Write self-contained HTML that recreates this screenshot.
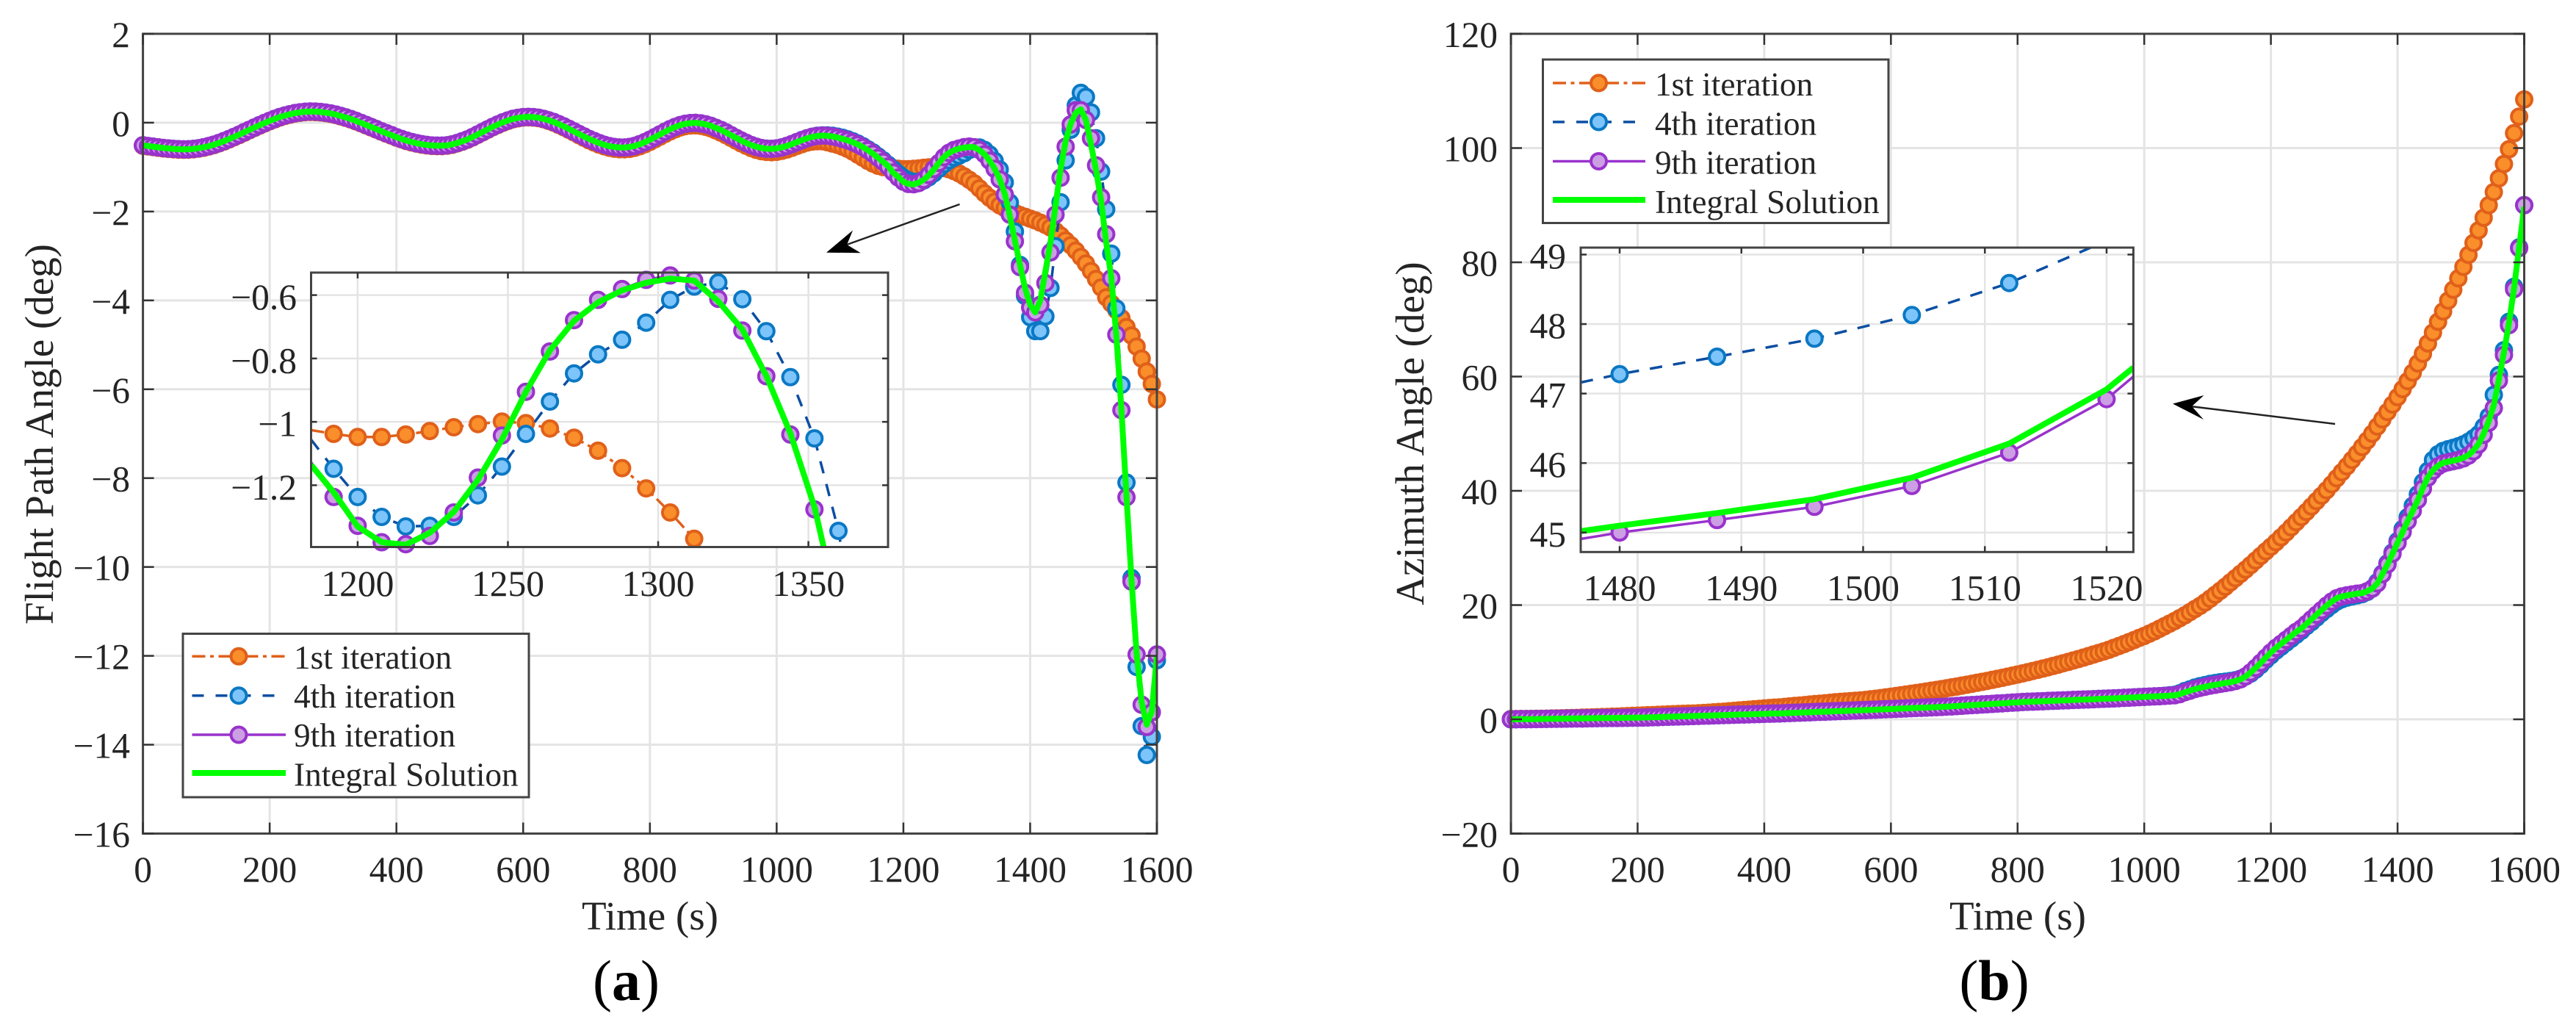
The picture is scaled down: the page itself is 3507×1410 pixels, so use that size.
<!DOCTYPE html>
<html lang="en">
<head>
<meta charset="utf-8">
<title>Flight path angle and azimuth angle iterations</title>
<style>
html,body{margin:0;padding:0;background:#fff;width:3507px;height:1410px;overflow:hidden;}
svg{display:block;font-family:"Liberation Serif",serif;}
text{fill:#242424;}
</style>
</head>
<body>
<svg id="figure" xmlns="http://www.w3.org/2000/svg" width="3507" height="1410" viewBox="0 0 3507 1410">
<rect x="0" y="0" width="3507" height="1410" fill="#ffffff"/>
<g id="panelA"></g>
<g id="panelB"></g>

<g>
<rect x="249" y="862.5" width="471" height="222.5" fill="#fff" stroke="#444" stroke-width="3"/>
<g>
<line x1="261.5" y1="893.3" x2="389" y2="893.3" stroke="#E0601A" stroke-width="3.5" stroke-dasharray="18 6.5 5 6.5"/>
<circle cx="325" cy="893.3" r="10.5" fill="#F98E2B" stroke="#E0601A" stroke-width="4"/>
<text x="400" y="910" font-size="45.3">1st iteration</text></g>
<g>
<line x1="261.5" y1="946.7" x2="389" y2="946.7" stroke="#0B4EA2" stroke-width="3.5" stroke-dasharray="16 16"/>
<circle cx="325" cy="946.7" r="10.5" fill="#7CC4FA" stroke="#0A78C4" stroke-width="4"/>
<text x="400" y="963" font-size="45.3">4th iteration</text></g>
<g>
<line x1="261.5" y1="1000" x2="389" y2="1000" stroke="#9933CC" stroke-width="3.5"/>
<circle cx="325" cy="1000" r="10.5" fill="#CC9FE4" stroke="#9933CC" stroke-width="4"/>
<text x="400" y="1016" font-size="45.3">9th iteration</text></g>
<g>
<line x1="261.5" y1="1052" x2="389" y2="1052" stroke="#00FF00" stroke-width="8"/>
<text x="400" y="1069.5" font-size="45.3">Integral Solution</text></g>
</g>

<g>
<rect x="2100.5" y="81" width="470.5" height="222.5" fill="#fff" stroke="#444" stroke-width="3"/>
<g>
<line x1="2114" y1="113" x2="2240" y2="113" stroke="#E0601A" stroke-width="3.5" stroke-dasharray="18 6.5 5 6.5"/>
<circle cx="2176.5" cy="113" r="10.5" fill="#F98E2B" stroke="#E0601A" stroke-width="4"/>
<text x="2253" y="130" font-size="45.3">1st iteration</text></g>
<g>
<line x1="2114" y1="166" x2="2240" y2="166" stroke="#0B4EA2" stroke-width="3.5" stroke-dasharray="16 16"/>
<circle cx="2176.5" cy="166" r="10.5" fill="#7CC4FA" stroke="#0A78C4" stroke-width="4"/>
<text x="2253" y="183.5" font-size="45.3">4th iteration</text></g>
<g>
<line x1="2114" y1="219.5" x2="2240" y2="219.5" stroke="#9933CC" stroke-width="3.5"/>
<circle cx="2176.5" cy="219.5" r="10.5" fill="#CC9FE4" stroke="#9933CC" stroke-width="4"/>
<text x="2253" y="236.5" font-size="45.3">9th iteration</text></g>
<g>
<line x1="2114" y1="272" x2="2240" y2="272" stroke="#00FF00" stroke-width="8"/>
<text x="2253" y="290" font-size="45.3">Integral Solution</text></g>
</g>

<g id="insetA"></g>
<g id="insetB"></g>

<g>
<line x1="1306.5" y1="278" x2="1150" y2="334" stroke="#222" stroke-width="2.5"/>
<polygon points="1125,343.7 1161,313.5 1153,333 1171.7,344.3" fill="#000"/>
</g>
<g>
<line x1="3179" y1="577" x2="2982" y2="553" stroke="#222" stroke-width="2.5"/>
<polygon points="2958,549.5 3000.5,538 2984,553 3000,571" fill="#000"/>
</g>

<text x="885" y="1265" font-size="55" text-anchor="middle">Time (s)</text>
<text x="2747" y="1265" font-size="55" text-anchor="middle">Time (s)</text>
<text transform="translate(72 591) rotate(-90)" font-size="55" text-anchor="middle">Flight Path Angle (deg)</text>
<text transform="translate(1938 590) rotate(-90)" font-size="55" text-anchor="middle">Azimuth Angle (deg)</text>
<text x="852.5" y="1361" font-size="78" text-anchor="middle" style="fill:#000">(<tspan font-weight="bold">a</tspan>)</text>
<text x="2715" y="1361" font-size="78" text-anchor="middle" style="fill:#000">(<tspan font-weight="bold">b</tspan>)</text>
</svg>

<script>
const sampleTimes = [
0,8,16,24,32,40,48,56,64,72,
80,88,96,104,112,120,128,136,144,152,
160,168,176,184,192,200,208,216,224,232,
240,248,256,264,272,280,288,296,304,312,
320,328,336,344,352,360,368,376,384,392,
400,408,416,424,432,440,448,456,464,472,
480,488,496,504,512,520,528,536,544,552,
560,568,576,584,592,600,608,616,624,632,
640,648,656,664,672,680,688,696,704,712,
720,728,736,744,752,760,768,776,784,792,
800,808,816,824,832,840,848,856,864,872,
880,888,896,904,912,920,928,936,944,952,
960,968,976,984,992,1000,1008,1016,1024,1032,
1040,1048,1056,1064,1072,1080,1088,1096,1104,1112,
1120,1128,1136,1144,1152,1160,1168,1176,1184,1192,
1200,1208,1216,1224,1232,1240,1248,1256,1264,1272,
1280,1288,1296,1304,1312,1320,1328,1336,1344,1352,
1360,1368,1376,1384,1392,1400,1408,1416,1424,1432,
1440,1448,1456,1464,1472,1480,1488,1496,1504,1512,
1520,1528,1536,1544,1552,1560,1568,1576,1584,1592,
1600];

const gammaIter1 = [
-0.52,-0.535,-0.55,-0.565,-0.58,-0.59,-0.6,-0.607,-0.61,-0.608,
-0.6,-0.584,-0.564,-0.537,-0.505,-0.467,-0.425,-0.378,-0.329,-0.278,
-0.225,-0.171,-0.119,-0.067,-0.018,0.031,0.075,0.116,0.151,0.18,
0.205,0.223,0.235,0.24,0.238,0.23,0.216,0.197,0.172,0.142,
0.108,0.072,0.03,-0.014,-0.06,-0.107,-0.153,-0.202,-0.248,-0.291,
-0.336,-0.376,-0.415,-0.445,-0.473,-0.495,-0.512,-0.523,-0.529,-0.529,
-0.518,-0.498,-0.468,-0.43,-0.386,-0.335,-0.277,-0.219,-0.161,-0.104,
-0.052,-0.003,0.039,0.075,0.099,0.115,0.12,0.115,0.101,0.077,
0.04,0,-0.05,-0.104,-0.16,-0.22,-0.28,-0.34,-0.397,-0.447,
-0.495,-0.534,-0.565,-0.587,-0.598,-0.6,-0.59,-0.567,-0.53,-0.485,
-0.432,-0.373,-0.313,-0.254,-0.197,-0.148,-0.107,-0.079,-0.063,-0.06,
-0.07,-0.093,-0.128,-0.174,-0.224,-0.281,-0.343,-0.405,-0.466,-0.52,
-0.572,-0.612,-0.642,-0.659,-0.665,-0.656,-0.634,-0.604,-0.564,-0.522,
-0.483,-0.448,-0.428,-0.418,-0.42,-0.44,-0.47,-0.5,-0.54,-0.59,
-0.65,-0.72,-0.79,-0.86,-0.92,-0.97,-1,-1.015,-1.025,-1.038,
-1.048,-1.048,-1.04,-1.029,-1.017,-1.007,-0.999,-1.004,-1.021,-1.05,
-1.091,-1.146,-1.21,-1.286,-1.369,-1.48,-1.59,-1.69,-1.78,-1.86,
-1.92,-1.98,-2.03,-2.08,-2.12,-2.16,-2.2,-2.25,-2.3,-2.36,
-2.44,-2.54,-2.65,-2.76,-2.88,-3.02,-3.17,-3.34,-3.52,-3.71,
-3.93,-4.07,-4.22,-4.4,-4.6,-4.79,-5.04,-5.31,-5.6,-5.88,
-6.23];

const gammaIter4 = [
-0.51,-0.525,-0.54,-0.555,-0.57,-0.58,-0.59,-0.597,-0.6,-0.598,
-0.59,-0.574,-0.554,-0.527,-0.495,-0.457,-0.415,-0.368,-0.319,-0.268,
-0.215,-0.161,-0.109,-0.057,-0.008,0.041,0.085,0.126,0.161,0.19,
0.215,0.233,0.245,0.25,0.248,0.24,0.226,0.207,0.182,0.152,
0.118,0.082,0.04,-0.004,-0.05,-0.097,-0.143,-0.192,-0.238,-0.281,
-0.326,-0.366,-0.405,-0.435,-0.463,-0.485,-0.502,-0.513,-0.519,-0.519,
-0.508,-0.488,-0.458,-0.42,-0.376,-0.325,-0.267,-0.209,-0.151,-0.094,
-0.042,0.007,0.049,0.085,0.109,0.125,0.13,0.125,0.111,0.087,
0.054,0.015,-0.032,-0.084,-0.139,-0.197,-0.255,-0.312,-0.367,-0.415,
-0.461,-0.498,-0.528,-0.548,-0.558,-0.559,-0.547,-0.523,-0.486,-0.439,
-0.385,-0.325,-0.264,-0.204,-0.146,-0.097,-0.055,-0.026,-0.009,-0.005,
-0.015,-0.037,-0.071,-0.116,-0.165,-0.221,-0.282,-0.343,-0.403,-0.455,
-0.505,-0.543,-0.571,-0.586,-0.59,-0.58,-0.556,-0.524,-0.482,-0.437,
-0.39,-0.35,-0.317,-0.295,-0.285,-0.285,-0.295,-0.315,-0.34,-0.375,
-0.42,-0.47,-0.53,-0.6,-0.67,-0.76,-0.85,-0.95,-1.05,-1.148,
-1.237,-1.3,-1.33,-1.328,-1.3,-1.232,-1.141,-1.038,-0.936,-0.847,
-0.787,-0.741,-0.687,-0.615,-0.573,-0.56,-0.613,-0.714,-0.859,-1.052,
-1.344,-1.8,-2.45,-3.2,-3.9,-4.38,-4.69,-4.69,-4.36,-3.72,
-2.78,-1.79,-0.85,-0.16,0.39,0.67,0.58,0.23,-0.35,-1.1,
-1.95,-2.95,-4.18,-5.9,-8.1,-10.25,-12.25,-13.58,-14.23,-13.82,
-12.1];

const gammaIter9 = [
-0.51,-0.525,-0.54,-0.555,-0.57,-0.58,-0.59,-0.597,-0.6,-0.598,
-0.59,-0.574,-0.554,-0.527,-0.495,-0.457,-0.415,-0.368,-0.319,-0.268,
-0.215,-0.161,-0.109,-0.057,-0.008,0.041,0.085,0.126,0.161,0.19,
0.215,0.233,0.245,0.25,0.248,0.24,0.226,0.207,0.182,0.152,
0.118,0.082,0.04,-0.004,-0.05,-0.097,-0.143,-0.192,-0.238,-0.281,
-0.326,-0.366,-0.405,-0.435,-0.463,-0.485,-0.502,-0.513,-0.519,-0.519,
-0.508,-0.488,-0.458,-0.42,-0.376,-0.325,-0.267,-0.209,-0.151,-0.094,
-0.042,0.007,0.049,0.085,0.109,0.125,0.13,0.125,0.111,0.087,
0.054,0.015,-0.032,-0.084,-0.139,-0.197,-0.255,-0.312,-0.367,-0.415,
-0.461,-0.498,-0.528,-0.548,-0.558,-0.559,-0.547,-0.523,-0.486,-0.439,
-0.385,-0.325,-0.264,-0.204,-0.146,-0.097,-0.055,-0.026,-0.009,-0.005,
-0.015,-0.037,-0.071,-0.116,-0.165,-0.221,-0.282,-0.343,-0.403,-0.455,
-0.505,-0.543,-0.571,-0.586,-0.59,-0.58,-0.556,-0.524,-0.482,-0.437,
-0.394,-0.353,-0.32,-0.299,-0.29,-0.295,-0.31,-0.335,-0.365,-0.4,
-0.44,-0.49,-0.55,-0.62,-0.7,-0.79,-0.88,-0.99,-1.12,-1.237,
-1.328,-1.38,-1.386,-1.36,-1.286,-1.176,-1.043,-0.905,-0.778,-0.679,
-0.615,-0.581,-0.552,-0.538,-0.554,-0.612,-0.712,-0.856,-1.04,-1.276,
-1.62,-2.07,-2.67,-3.25,-3.83,-4.16,-4.27,-4.1,-3.61,-2.92,
-2.07,-1.24,-0.54,-0.04,0.28,0.28,0.06,-0.35,-0.96,-1.68,
-2.51,-3.5,-4.77,-6.47,-8.43,-10.33,-11.97,-13.1,-13.6,-13.27,
-11.97];

const gammaIntegral = [
-0.51,-0.525,-0.54,-0.555,-0.57,-0.58,-0.59,-0.597,-0.6,-0.598,
-0.59,-0.574,-0.554,-0.527,-0.495,-0.457,-0.415,-0.368,-0.319,-0.268,
-0.215,-0.161,-0.109,-0.057,-0.008,0.041,0.085,0.126,0.161,0.19,
0.215,0.233,0.245,0.25,0.248,0.24,0.226,0.207,0.182,0.152,
0.118,0.082,0.04,-0.004,-0.05,-0.097,-0.143,-0.192,-0.238,-0.281,
-0.326,-0.366,-0.405,-0.435,-0.463,-0.485,-0.502,-0.513,-0.519,-0.519,
-0.508,-0.488,-0.458,-0.42,-0.376,-0.325,-0.267,-0.209,-0.151,-0.094,
-0.042,0.007,0.049,0.085,0.109,0.125,0.13,0.125,0.111,0.087,
0.054,0.015,-0.032,-0.084,-0.139,-0.197,-0.255,-0.312,-0.367,-0.415,
-0.461,-0.498,-0.528,-0.548,-0.558,-0.559,-0.547,-0.523,-0.486,-0.439,
-0.385,-0.325,-0.264,-0.204,-0.146,-0.097,-0.055,-0.026,-0.009,-0.005,
-0.015,-0.037,-0.071,-0.116,-0.165,-0.221,-0.282,-0.343,-0.403,-0.455,
-0.505,-0.543,-0.571,-0.586,-0.59,-0.58,-0.556,-0.524,-0.482,-0.437,
-0.394,-0.353,-0.32,-0.299,-0.29,-0.295,-0.31,-0.335,-0.365,-0.4,
-0.44,-0.49,-0.55,-0.62,-0.7,-0.79,-0.88,-0.98,-1.13,-1.222,
-1.33,-1.38,-1.388,-1.35,-1.284,-1.183,-1.056,-0.905,-0.774,-0.681,
-0.623,-0.585,-0.561,-0.548,-0.554,-0.62,-0.708,-0.855,-1.036,-1.268,
-1.6,-2.1,-2.65,-3.2,-3.72,-4.1,-4.27,-4,-3.35,-2.7,
-1.87,-1.04,-0.41,-0.02,0.22,0.3,0.06,-0.49,-1.07,-1.76,
-2.7,-3.47,-4.8,-6.45,-8.4,-10.3,-11.95,-13.05,-13.55,-13.25,
-12];

const azimuthIter1 = [
0.05,0.05,0.06,0.07,0.08,0.09,0.1,0.12,0.14,0.16,
0.18,0.2,0.22,0.25,0.28,0.31,0.34,0.37,0.4,0.43,
0.46,0.49,0.53,0.57,0.6,0.64,0.68,0.72,0.75,0.79,
0.82,0.86,0.9,0.93,0.96,0.99,1.02,1.05,1.1,1.16,
1.22,1.28,1.34,1.41,1.48,1.55,1.62,1.69,1.76,1.84,
1.92,1.98,2.04,2.1,2.18,2.26,2.34,2.42,2.5,2.58,
2.66,2.74,2.82,2.9,2.98,3.06,3.12,3.18,3.24,3.3,
3.4,3.5,3.6,3.72,3.84,3.96,4.08,4.21,4.34,4.47,
4.6,4.73,4.87,5.01,5.15,5.29,5.44,5.59,5.74,5.9,
6.06,6.22,6.39,6.56,6.73,6.91,7.09,7.27,7.46,7.65,
7.84,8.04,8.25,8.46,8.67,8.89,9.11,9.34,9.57,9.81,
10.05,10.3,10.55,10.81,11.07,11.34,11.61,11.89,12.17,12.5,
12.83,13.17,13.52,13.88,14.25,14.6,15,15.4,15.85,16.3,
16.75,17.2,17.7,18.2,18.75,19.3,19.85,20.45,21.1,21.8,
22.5,23.2,23.95,24.7,25.45,26.2,27,27.8,28.6,29.4,
30.2,31,31.85,32.7,33.6,34.5,35.4,36.3,37.25,38.2,
39.15,40.1,41.15,42.2,43.25,44.3,45.4,46.5,47.65,48.8,
50,51.25,52.5,53.8,55.1,56.4,57.8,59.2,60.7,62.3,
64,65.8,67.7,69.6,71.4,73.3,75.2,77.2,79.2,81.3,
83.4,85.6,87.8,90,92.3,94.7,97.2,99.8,102.6,105.5,
108.5];

const azimuthIter4 = [
0,0.01,0.02,0.03,0.04,0.05,0.07,0.08,0.09,0.1,
0.11,0.13,0.14,0.15,0.16,0.18,0.19,0.2,0.22,0.23,
0.24,0.25,0.26,0.27,0.28,0.29,0.31,0.34,0.37,0.39,
0.42,0.45,0.47,0.5,0.53,0.55,0.58,0.61,0.64,0.66,
0.69,0.72,0.74,0.77,0.8,0.83,0.85,0.88,0.91,0.93,
0.96,0.99,1.01,1.03,1.07,1.1,1.14,1.17,1.21,1.24,
1.28,1.31,1.34,1.38,1.41,1.45,1.48,1.52,1.55,1.59,
1.62,1.66,1.69,1.73,1.77,1.8,1.84,1.88,1.91,1.95,
1.99,2.02,2.06,2.1,2.13,2.17,2.22,2.27,2.33,2.38,
2.44,2.49,2.54,2.6,2.65,2.7,2.76,2.81,2.87,2.92,
2.97,3.03,3.07,3.1,3.14,3.17,3.21,3.24,3.28,3.32,
3.35,3.39,3.42,3.46,3.49,3.53,3.56,3.6,3.63,3.67,
3.71,3.75,3.8,3.84,3.88,3.93,3.97,4.01,4.05,4.12,
4.2,4.3,4.55,4.95,5.25,5.55,5.8,6,6.2,6.35,
6.5,6.6,6.7,6.85,7.1,7.5,8,8.7,9.5,10.4,
11.2,12,12.7,13.4,14.1,14.8,15.5,16.3,17,17.8,
18.6,19.3,20,20.6,21,21.3,21.5,21.7,21.9,22.3,
22.9,24,25.5,27.3,29.2,31.2,33.3,35.4,37.4,39.4,
41.5,43.5,45.4,46.4,46.98,47.28,47.53,47.79,48.13,48.59,
49.2,49.9,51.2,53,56.8,60.3,64.6,69.6,75.7,82.6,
90];

const azimuthIter9 = [
0,0.01,0.02,0.03,0.04,0.05,0.07,0.08,0.09,0.1,
0.11,0.13,0.14,0.15,0.16,0.18,0.19,0.2,0.22,0.23,
0.24,0.25,0.26,0.27,0.28,0.29,0.31,0.34,0.37,0.39,
0.42,0.45,0.47,0.5,0.53,0.55,0.58,0.61,0.64,0.66,
0.69,0.72,0.74,0.77,0.8,0.83,0.85,0.88,0.91,0.93,
0.96,0.99,1.01,1.03,1.07,1.1,1.14,1.17,1.21,1.24,
1.28,1.31,1.34,1.38,1.41,1.45,1.48,1.52,1.55,1.59,
1.62,1.66,1.69,1.73,1.77,1.8,1.84,1.88,1.91,1.95,
1.99,2.02,2.06,2.1,2.13,2.17,2.22,2.27,2.33,2.38,
2.44,2.49,2.54,2.6,2.65,2.7,2.76,2.81,2.87,2.92,
2.97,3.03,3.07,3.1,3.14,3.17,3.21,3.24,3.28,3.32,
3.35,3.39,3.42,3.46,3.49,3.53,3.56,3.6,3.63,3.67,
3.71,3.75,3.8,3.84,3.88,3.93,3.97,4.01,4.05,4.1,
4.15,4.2,4.4,4.75,5,5.3,5.5,5.7,5.9,6.05,
6.2,6.35,6.5,6.7,7,7.5,8.2,9,9.9,10.8,
11.7,12.5,13.2,13.9,14.6,15.3,15.9,16.7,17.5,18.3,
19.1,19.9,20.6,21.2,21.5,21.7,21.85,22,22.1,22.4,
22.9,23.8,25.4,27.1,29,30.9,32.8,34.7,36.5,38.4,
40.4,42.3,43.5,44.3,44.77,45,45.18,45.37,45.67,46.15,
46.92,48.1,49.8,51.9,54.5,59.3,63.8,69,75.3,82.5,
90];

const azimuthIntegral = [
0,0.01,0.02,0.03,0.04,0.05,0.07,0.08,0.09,0.1,
0.11,0.13,0.14,0.15,0.16,0.18,0.19,0.2,0.22,0.23,
0.24,0.25,0.26,0.27,0.28,0.29,0.31,0.34,0.37,0.39,
0.42,0.45,0.47,0.5,0.53,0.55,0.58,0.61,0.64,0.66,
0.69,0.72,0.74,0.77,0.8,0.83,0.85,0.88,0.91,0.93,
0.96,0.99,1.01,1.03,1.07,1.1,1.14,1.17,1.21,1.24,
1.28,1.31,1.34,1.38,1.41,1.45,1.48,1.52,1.55,1.59,
1.62,1.66,1.69,1.73,1.77,1.8,1.84,1.88,1.91,1.95,
1.99,2.02,2.06,2.1,2.13,2.17,2.22,2.27,2.33,2.38,
2.44,2.49,2.54,2.6,2.65,2.7,2.76,2.81,2.87,2.92,
2.97,3.03,3.07,3.1,3.14,3.17,3.21,3.24,3.28,3.32,
3.35,3.39,3.42,3.46,3.49,3.53,3.56,3.6,3.63,3.67,
3.71,3.75,3.8,3.84,3.88,3.93,3.97,4.01,4.05,4.1,
4.15,4.2,4.4,4.75,5,5.3,5.5,5.7,5.9,6.05,
6.2,6.35,6.5,6.7,7,7.5,8.2,9,9.9,10.8,
11.7,12.5,13.2,13.9,14.6,15.3,15.9,16.7,17.5,18.3,
19.1,19.9,20.6,21.2,21.5,21.7,21.85,22,22.1,22.4,
22.9,23.8,25.4,27.1,29,30.9,32.8,34.7,36.5,38.4,
40.5,42.4,43.6,44.4,44.9,45.1,45.28,45.48,45.79,46.28,
47.06,48.2,50,52.2,55,59.5,64.2,69.4,75.5,82.6,
89.7];

const mainTimeTicks = [0,200,400,600,800,1000,1200,1400,1600];
const gammaTicks = [2,0,-2,-4,-6,-8,-10,-12,-14,-16];
const azimuthTicks = [120,100,80,60,40,20,0,-20];
const insetATimeTicks = [1200,1250,1300,1350];
const insetAGammaTicks = [-0.6,-0.8,-1,-1.2];
const insetBTimeTicks = [1480,1490,1500,1510,1520];
const insetBAzimuthTicks = [49,48,47,46,45];

const NS = 'http://www.w3.org/2000/svg';
function el(parent, tag, attrs) {
  const node = document.createElementNS(NS, tag);
  for (const k in attrs) node.setAttribute(k, attrs[k]);
  parent.appendChild(node);
  return node;
}
function labelText(v) { return String(v).replace('-', '\u2212'); }

/* Liang-Barsky clip of one data segment to the axes limits */
function clipSegment(x0, y0, x1, y1, cfg) {
  let t0 = 0, t1 = 1;
  const dx = x1 - x0, dy = y1 - y0;
  const checks = [[-dx, x0 - cfg.xMin], [dx, cfg.xMax - x0], [-dy, y0 - cfg.yMin], [dy, cfg.yMax - y0]];
  for (const c of checks) {
    const p = c[0], q = c[1];
    if (p === 0) { if (q < 0) return null; continue; }
    const r = q / p;
    if (p < 0) { if (r > t1) return null; if (r > t0) t0 = r; }
    else { if (r < t0) return null; if (r < t1) t1 = r; }
  }
  return {ax:x0 + t0 * dx, ay:y0 + t0 * dy, bx:x0 + t1 * dx, by:y0 + t1 * dy, full:t1 === 1};
}

const styleIter1 = {name:'iter-1', line:'#E0601A', width:3.5, dash:'18 6.5 5 6.5', fill:'#F98E2B', edge:'#E0601A'};
const styleIter4 = {name:'iter-4', line:'#0B4EA2', width:3.5, dash:'17 15', fill:'#7CC4FA', edge:'#0A78C4'};
const styleIter9 = {name:'iter-9', line:'#9933CC', width:3.5, dash:'none', fill:'#CC9FE4', edge:'#9933CC'};
const styleIntegral = {name:'integral', line:'#00FF00', width:8, dash:'none', fill:null, edge:null};

let clipCounter = 0;
function drawAxes(root, cfg) {
  const b = cfg.box;
  const xs = v => b.left + (v - cfg.xMin) / (cfg.xMax - cfg.xMin) * (b.right - b.left);
  const ys = v => b.bottom - (v - cfg.yMin) / (cfg.yMax - cfg.yMin) * (b.bottom - b.top);

  if (cfg.opaque) {
    const bg = el(root, 'rect', {x:b.left, y:b.top, width:b.right-b.left, height:b.bottom-b.top, fill:'#fff'});
    
    
  }
  const clipId = 'clip' + (++clipCounter);
  const cp = el(root, 'clipPath', {id:clipId});
  el(cp, 'rect', {x:b.left, y:b.top, width:b.right-b.left, height:b.bottom-b.top});

  const grid = el(root, 'g', {stroke:'#e4e4e4', 'stroke-width':cfg.gridWidth});
  
  
  cfg.xTicks.forEach(t => {
    const gl = el(grid, 'line', {x1:xs(t), x2:xs(t), y1:b.top, y2:b.bottom});
    
    
  });
  cfg.yTicks.forEach(t => {
    const gl = el(grid, 'line', {x1:b.left, x2:b.right, y1:ys(t), y2:ys(t)});
    
    
  });

  cfg.series.forEach(s => {
    const g = el(root, 'g', {});
    
    
    let d = '';
    let penDown = false;
    for (let i = 0; i + 1 < sampleTimes.length; i++) {
      const seg = clipSegment(sampleTimes[i], s.values[i], sampleTimes[i + 1], s.values[i + 1], cfg);
      if (!seg) { penDown = false; continue; }
      if (!penDown) d += 'M' + xs(seg.ax).toFixed(1) + ' ' + ys(seg.ay).toFixed(1);
      d += 'L' + xs(seg.bx).toFixed(1) + ' ' + ys(seg.by).toFixed(1);
      penDown = seg.full;
    }
    const line = el(g, 'path', {d:d, fill:'none', stroke:s.style.line, 'stroke-width':s.style.width,
      'stroke-dasharray':s.style.dash, 'clip-path':'url(#' + clipId + ')', 'stroke-linejoin':'round'});
    
    
    if (s.style.fill) {
      sampleTimes.forEach((t, i) => {
        const v = s.values[i];
        if (t < cfg.xMin || t > cfg.xMax || v < cfg.yMin || v > cfg.yMax) return;
        const m = el(g, 'circle', {cx:xs(t).toFixed(1), cy:ys(v).toFixed(1), r:10.5, fill:s.style.fill, stroke:s.style.edge, 'stroke-width':4});
        
        
      });
    }
  });

  const frame = el(root, 'rect', {x:b.left, y:b.top, width:b.right-b.left, height:b.bottom-b.top, fill:'none', stroke:'#444', 'stroke-width':cfg.frameWidth});
  
  

  cfg.xTicks.forEach(t => {
    const a = el(root, 'line', {x1:xs(t), x2:xs(t), y1:b.bottom, y2:b.bottom - cfg.tick, stroke:'#333', 'stroke-width':2.5});
    
    
    const c = el(root, 'line', {x1:xs(t), x2:xs(t), y1:b.top, y2:b.top + cfg.tick, stroke:'#333', 'stroke-width':2.5});
    
    
    const lab = el(root, 'text', {x:xs(t), y:cfg.xLabelY, 'font-size':49.5, 'text-anchor':'middle'});
    lab.textContent = labelText(t);
    
    
  });
  cfg.yTicks.forEach(t => {
    const a = el(root, 'line', {x1:b.left, x2:b.left + cfg.tick, y1:ys(t), y2:ys(t), stroke:'#333', 'stroke-width':2.5});
    
    
    const c = el(root, 'line', {x1:b.right, x2:b.right - cfg.tick, y1:ys(t), y2:ys(t), stroke:'#333', 'stroke-width':2.5});
    
    
    const lab = el(root, 'text', {x:cfg.yLabelX, y:ys(t) + cfg.yLabelShift, 'font-size':49.5, 'text-anchor':'end'});
    lab.textContent = labelText(t);
    
    
  });
}

const seriesA = [
  {style:styleIter1, values:gammaIter1},
  {style:styleIter4, values:gammaIter4},
  {style:styleIter9, values:gammaIter9},
  {style:styleIntegral, values:gammaIntegral}
];
const seriesB = [
  {style:styleIter1, values:azimuthIter1},
  {style:styleIter4, values:azimuthIter4},
  {style:styleIter9, values:azimuthIter9},
  {style:styleIntegral, values:azimuthIntegral}
];

drawAxes(document.getElementById('panelA'), {
  box:{left:194.6, right:1575, top:46, bottom:1134.5},
  xMin:0, xMax:1600, yMin:-16, yMax:2,
  xTicks:mainTimeTicks, yTicks:gammaTicks, series:seriesA,
  gridWidth:3, frameWidth:3, tick:15, xLabelY:1200, yLabelX:177, yLabelShift:18, opaque:false
});
drawAxes(document.getElementById('panelB'), {
  box:{left:2057, right:3436.5, top:46, bottom:1134.5},
  xMin:0, xMax:1600, yMin:-20, yMax:120,
  xTicks:mainTimeTicks, yTicks:azimuthTicks, series:seriesB,
  gridWidth:3, frameWidth:3, tick:15, xLabelY:1200, yLabelX:2039, yLabelShift:18, opaque:false
});
drawAxes(document.getElementById('insetA'), {
  box:{left:423.5, right:1209, top:371, bottom:744.5},
  xMin:1184.5, xMax:1376.5, yMin:-1.395, yMax:-0.529,
  xTicks:insetATimeTicks, yTicks:insetAGammaTicks, series:seriesA,
  gridWidth:2.5, frameWidth:3, tick:8, xLabelY:811, yLabelX:404, yLabelShift:19.5, opaque:true
});
drawAxes(document.getElementById('insetB'), {
  box:{left:2152, right:2904.4, top:337, bottom:751.3},
  xMin:1476.8, xMax:1522.2, yMin:44.72, yMax:49.1,
  xTicks:insetBTimeTicks, yTicks:insetBAzimuthTicks, series:seriesB,
  gridWidth:2.5, frameWidth:3, tick:8, xLabelY:817, yLabelX:2132, yLabelShift:19, opaque:true
});
</script>
</body>
</html>
